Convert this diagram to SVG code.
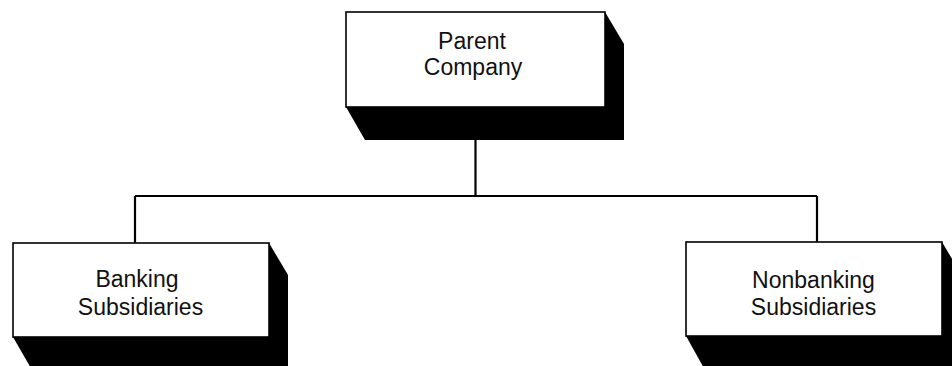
<svg xmlns="http://www.w3.org/2000/svg" width="952" height="366" viewBox="0 0 952 366">
<style>
.shadow{fill:#000;stroke:none}
.box{fill:#fff;stroke:#000;stroke-width:1.6}
.lbl{font-family:"Liberation Sans",Arial,Helvetica,sans-serif;font-size:23px;fill:#111;text-anchor:middle}
.conn{fill:none;stroke:#000;stroke-width:2.2}
</style>
<rect width="952" height="366" fill="#fff"/>
<g id="connectors">
<path class="conn" d="M475.5 139 V196"/>
<path class="conn" d="M135 196 H817"/>
<path class="conn" d="M135 196 V243"/>
<path class="conn" d="M817 196 V242"/>
</g>
<g id="parent">
<polygon class="shadow" points="605,12 624,44 624,140 365,140 346,107"/>
<rect class="box" x="346" y="12" width="259" height="95"/>
<text class="lbl" x="472" y="48.5">Parent</text>
<text class="lbl" x="473" y="75">Company</text>
</g>
<g id="banking">
<polygon class="shadow" points="269,243 288,275 288,370 32,370 13,337"/>
<rect class="box" x="13" y="243" width="256" height="94"/>
<text class="lbl" x="137" y="287">Banking</text>
<text class="lbl" x="140.5" y="315">Subsidiaries</text>
</g>
<g id="nonbanking">
<polygon class="shadow" points="942,242 961,274 961,370 705,370 686,336"/>
<rect class="box" x="686" y="242" width="256" height="94"/>
<text class="lbl" x="813.5" y="288">Nonbanking</text>
<text class="lbl" x="813.5" y="315">Subsidiaries</text>
</g>
</svg>
